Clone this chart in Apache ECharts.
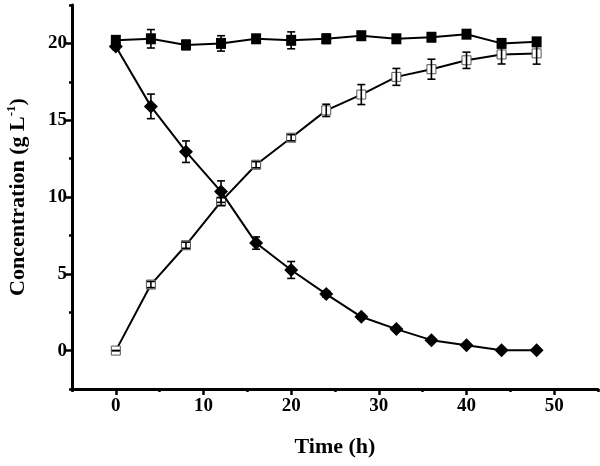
<!DOCTYPE html>
<html>
<head>
<meta charset="utf-8">
<script src="https://cdn.jsdelivr.net/npm/echarts@6/dist/echarts.min.js"></script>
<style>html,body{margin:0;padding:0;background:#fff}#c{width:600px;height:466px}</style>
</head>
<body>
<div id="c"></div>
<script>
var time = [0, 4, 8, 12, 16, 20, 24, 28, 32, 36, 40, 44, 48];
var filledSquare = [20.2, 20.3, 19.9, 20.0, 20.3, 20.2, 20.3, 20.5, 20.3, 20.4, 20.6, 20.0, 20.1];
var filledSquareErr = [0.2, 0.6, 0.3, 0.5, 0.2, 0.55, 0.3, 0.15, 0.15, 0.15, 0.15, 0.2, 0.2];
var diamond = [19.8, 15.9, 12.95, 10.35, 7.0, 5.25, 3.68, 2.2, 1.4, 0.68, 0.35, 0.02, 0.02];
var diamondErr = [0.2, 0.8, 0.7, 0.7, 0.4, 0.55, 0.2, 0.15, 0.1, 0.1, 0.1, 0.05, 0.05];
var openSquare = [0, 4.3, 6.86, 9.7, 12.1, 13.86, 15.64, 16.67, 17.82, 18.32, 18.9, 19.28, 19.35];
var openSquareErr = [0, 0.2, 0.2, 0.25, 0.2, 0.2, 0.4, 0.65, 0.55, 0.65, 0.53, 0.62, 0.7];
var xMajorTicks = [0, 10, 20, 30, 40, 50];
var xMinorTicks = [-5, 5, 15, 25, 35, 45, 55];
var yMajorTicks = [0, 5, 10, 15, 20];
var yMinorTicks = [-2.5, 2.5, 7.5, 12.5, 17.5, 22.5];

var FONT = 'Liberation Serif';
function pairs(ys) { return time.map(function (t, i) { return [t, ys[i]]; }); }
function errData(ys, es) { return time.map(function (t, i) { return [t, ys[i] - es[i], ys[i] + es[i]]; }); }
function errRender(params, api) {
  var x = api.value(0);
  var lo = api.coord([x, api.value(1)]);
  var hi = api.coord([x, api.value(2)]);
  var w = 4;
  var st = { stroke: '#000', lineWidth: 1.6 };
  return {
    type: 'group',
    children: [
      { type: 'line', shape: { x1: lo[0], y1: lo[1], x2: hi[0], y2: hi[1] }, style: st },
      { type: 'line', shape: { x1: lo[0] - w, y1: lo[1], x2: lo[0] + w, y2: lo[1] }, style: st },
      { type: 'line', shape: { x1: hi[0] - w, y1: hi[1], x2: hi[0] + w, y2: hi[1] }, style: st }
    ]
  };
}
var labelStyle = { fontFamily: FONT, fontWeight: 'bold', fontSize: 19, color: '#000' };
var chart = echarts.init(document.getElementById('c'), null, { renderer: 'canvas' });
chart.setOption({
  animation: false,
  backgroundColor: '#fff',
  grid: { left: 72, right: 2, top: 5, bottom: 77, containLabel: false, outerBoundsMode: 'none' },
  xAxis: [{
    type: 'value', min: -5, max: 55,
    name: 'Time (h)', nameLocation: 'middle', nameGap: 47,
    nameTextStyle: { fontFamily: FONT, fontWeight: 'bold', fontSize: 22, color: '#000' },
    axisLine: { show: true, onZero: false, lineStyle: { color: '#000', width: 3 } },
    axisTick: { show: true, inside: false, length: 6, customValues: xMajorTicks, lineStyle: { color: '#000', width: 2.5 } },
    axisLabel: Object.assign({ margin: 8, customValues: xMajorTicks }, labelStyle),
    splitLine: { show: false }
  }, {
    type: 'value', min: -5, max: 55, position: 'bottom',
    axisLine: { show: false, onZero: false },
    axisTick: { show: true, inside: false, length: 3, customValues: xMinorTicks, lineStyle: { color: '#000', width: 2.5 } },
    axisLabel: { show: false },
    splitLine: { show: false }
  }],
  yAxis: [{
    type: 'value', min: -2.5, max: 22.5,
    name: 'Concentration (g L{sup|-1})', nameLocation: 'middle', nameRotate: 90, nameGap: 40,
    nameTextStyle: { fontFamily: FONT, fontWeight: 'bold', fontSize: 22, color: '#000', lineHeight: 27,
      rich: { sup: { fontFamily: FONT, fontWeight: 'bold', fontSize: 13, color: '#000', verticalAlign: 'top', lineHeight: 27 } } },
    axisLine: { show: true, onZero: false, lineStyle: { color: '#000', width: 3 } },
    axisTick: { show: true, inside: false, length: 6, customValues: yMajorTicks, lineStyle: { color: '#000', width: 2.5 } },
    axisLabel: Object.assign({ margin: 5, customValues: yMajorTicks }, labelStyle),
    splitLine: { show: false }
  }, {
    type: 'value', min: -2.5, max: 22.5, position: 'left',
    axisLine: { show: false, onZero: false },
    axisTick: { show: true, inside: false, length: 3, customValues: yMinorTicks, lineStyle: { color: '#000', width: 2.5 } },
    axisLabel: { show: false },
    splitLine: { show: false }
  }],
  series: [
    { type: 'line', data: pairs(openSquare), symbol: 'rect', symbolSize: 9, z: 2,
      lineStyle: { color: '#000', width: 2 },
      itemStyle: { color: '#fff', borderColor: '#555', borderWidth: 1 } },
    { type: 'custom', data: errData(openSquare, openSquareErr), renderItem: errRender, z: 3, encode: { x: 0, y: [1, 2] } },
    { type: 'line', data: pairs(filledSquare), symbol: 'rect', symbolSize: [10, 11], z: 2,
      lineStyle: { color: '#000', width: 2 },
      itemStyle: { color: '#000', borderColor: '#000', borderWidth: 0 } },
    { type: 'custom', data: errData(filledSquare, filledSquareErr), renderItem: errRender, z: 3, encode: { x: 0, y: [1, 2] } },
    { type: 'line', data: pairs(diamond), symbol: 'diamond', symbolSize: 14, z: 4,
      lineStyle: { color: '#000', width: 2 },
      itemStyle: { color: '#000', borderColor: '#000', borderWidth: 0 } },
    { type: 'custom', data: errData(diamond, diamondErr), renderItem: errRender, z: 5, encode: { x: 0, y: [1, 2] } }
  ]
});
</script>
</body>
</html>
